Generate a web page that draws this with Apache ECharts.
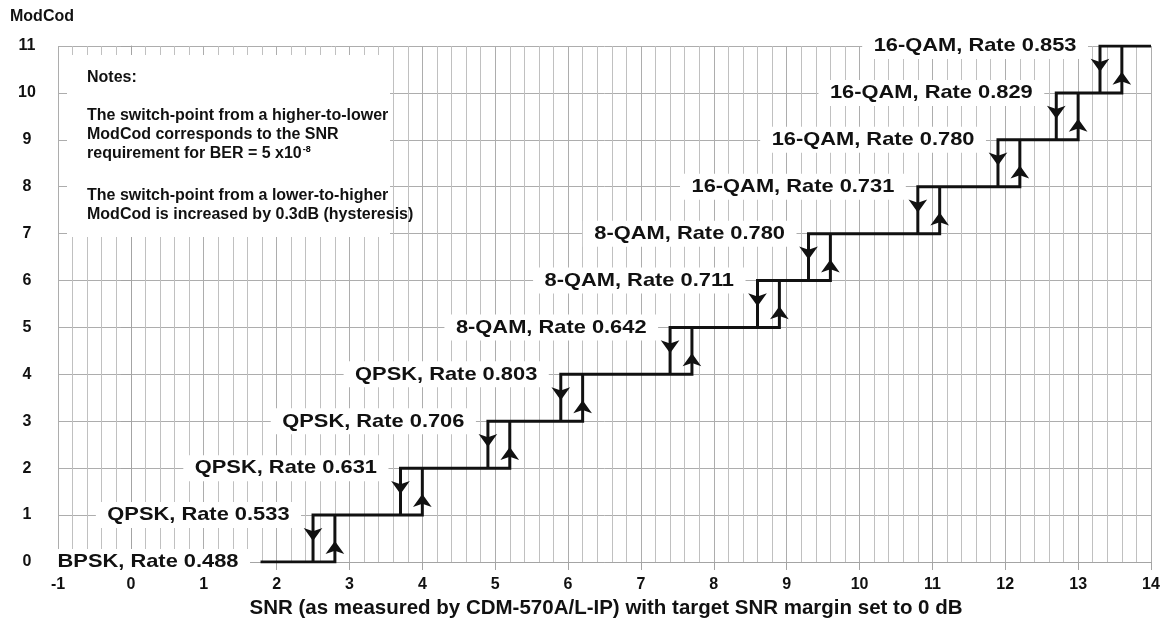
<!DOCTYPE html>
<html>
<head>
<meta charset="utf-8">
<script src="https://cdn.jsdelivr.net/npm/echarts@6/dist/echarts.min.js"></script>
<style>
html,body{margin:0;padding:0;background:#fff;}
#chart{width:1172px;height:627px;}
</style>
</head>
<body>
<div id="chart"></div>
<script>
// ---- data ----
const modcodLevels = [0, 1, 2, 3, 4, 5, 6, 7, 8, 9, 10, 11];
const modcodNames = [
  'BPSK, Rate 0.488', 'QPSK, Rate 0.533', 'QPSK, Rate 0.631', 'QPSK, Rate 0.706',
  'QPSK, Rate 0.803', '8-QAM, Rate 0.642', '8-QAM, Rate 0.711', '8-QAM, Rate 0.780',
  '16-QAM, Rate 0.731', '16-QAM, Rate 0.780', '16-QAM, Rate 0.829', '16-QAM, Rate 0.853'
];
// switch-point from ModCod k+1 down to k (higher-to-lower)
const downSwitchSNR = [2.5, 3.7, 4.9, 5.9, 7.4, 8.6, 9.3, 10.8, 11.9, 12.7, 13.3];
// switch-point from ModCod k up to k+1 (lower-to-higher, +0.3 dB hysteresis)
const upSwitchSNR = [2.8, 4.0, 5.2, 6.2, 7.7, 8.9, 9.6, 11.1, 12.2, 13.0, 13.6];
const snrStart = 1.8;
const snrEnd = 14;
const xAxisRange = [-1, 14];
const yAxisRange = [0, 11];
const notesTitle = 'Notes:';
const notesLines1 = ['The switch-point from a higher-to-lower', 'ModCod corresponds to the SNR'];
const notesBER = ['requirement for BER = 5 x10', '-8'];
const notesLines2 = ['The switch-point from a lower-to-higher', 'ModCod is increased by 0.3dB (hysteresis)'];
const yAxisTitle = 'ModCod';
const xAxisTitle = 'SNR (as measured by CDM-570A/L-IP) with target SNR margin set to 0 dB';

// ---- derived series data ----
const stepPath = [[snrStart, modcodLevels[0]]];
upSwitchSNR.forEach((s, k) => { stepPath.push([s, modcodLevels[k]], [s, modcodLevels[k + 1]]); });
stepPath.push([snrEnd, modcodLevels[modcodLevels.length - 1]]);
for (let k = downSwitchSNR.length - 1; k >= 0; k--) {
  stepPath.push([downSwitchSNR[k], modcodLevels[k + 1]], [downSwitchSNR[k], modcodLevels[k]]);
}
const downArrows = downSwitchSNR.map((s, k) => [s, modcodLevels[k] + 0.45]);
const upArrows = upSwitchSNR.map((s, k) => [s, modcodLevels[k] + 0.45]);
const labelData = modcodLevels.map((lv, k) => [k === 0 ? snrStart : downSwitchSNR[k - 1], lv, k]);

const FONT = '"Liberation Sans", Arial, Helvetica, sans-serif';
const GRID = {left: 58, right: 21, top: 46, bottom: 65};

const chart = echarts.init(document.getElementById('chart'), null, {renderer: 'canvas'});

const notesX = 87;
const option = {
  backgroundColor: '#fff',
  animation: false,
  grid: GRID,
  xAxis: {
    type: 'value', min: xAxisRange[0], max: xAxisRange[1], interval: 1,
    axisLine: {show: true, onZero: false, lineStyle: {color: '#a4a4a4', width: 1}},
    axisTick: {show: true, length: 8, lineStyle: {color: '#a4a4a4'}},
    axisLabel: {margin: 15, color: '#111', fontFamily: FONT, fontWeight: 'bold', fontSize: 16},
    splitLine: {show: true, lineStyle: {color: '#adadad', width: 1}},
    minorTick: {show: false, splitNumber: 5},
    minorSplitLine: {show: true, lineStyle: {color: '#c0c0c0', width: 1}}
  },
  yAxis: {
    type: 'value', min: yAxisRange[0], max: yAxisRange[1], interval: 1,
    axisLine: {show: true, lineStyle: {color: '#a4a4a4'}},
    axisTick: {show: true, length: 10, lineStyle: {color: '#a4a4a4'}},
    axisLabel: {margin: 31, align: 'center', color: '#111', fontFamily: FONT, fontWeight: 'bold', fontSize: 16},
    splitLine: {show: true, lineStyle: {color: '#adadad', width: 1}}
  },
  graphic: [
    {type: 'rect', z: 10, shape: {x: 67, y: 55, width: 323, height: 182}, style: {fill: '#fff'}},
    {type: 'text', z: 11, x: 10, y: 17, style: {text: yAxisTitle, font: 'bold 16px ' + FONT, fill: '#111', verticalAlign: 'middle'}},
    {type: 'text', z: 11, x: notesX, y: 78, style: {text: notesTitle, font: 'bold 16px ' + FONT, fill: '#111', verticalAlign: 'middle'}},
    {type: 'text', z: 11, x: notesX, y: 116, style: {text: notesLines1[0], font: 'bold 16px ' + FONT, fill: '#111', verticalAlign: 'middle'}},
    {type: 'text', z: 11, x: notesX, y: 135, style: {text: notesLines1[1], font: 'bold 16px ' + FONT, fill: '#111', verticalAlign: 'middle'}},
    {type: 'text', z: 11, x: notesX, y: 154, style: {
      text: '{a|' + notesBER[0] + '}{s|' + notesBER[1] + '}', verticalAlign: 'middle',
      rich: {
        a: {font: 'bold 16px ' + FONT, fill: '#111', color: '#111'},
        s: {font: 'bold 9px ' + FONT, color: '#111', verticalAlign: 'top', padding: [0, 0, 8, 1]}
      }
    }},
    {type: 'text', z: 11, x: notesX, y: 196, style: {text: notesLines2[0], font: 'bold 16px ' + FONT, fill: '#111', verticalAlign: 'middle'}},
    {type: 'text', z: 11, x: notesX, y: 215, style: {text: notesLines2[1], font: 'bold 16px ' + FONT, fill: '#111', verticalAlign: 'middle'}},
    {type: 'text', z: 11, x: 606, y: 608, style: {text: xAxisTitle, font: 'bold 20.5px ' + FONT, fill: '#111', align: 'center', verticalAlign: 'middle'}}
  ],
  series: [
    {
      type: 'custom',
      name: 'labels',
      data: labelData,
      clip: false,
      z: 3,
      renderItem: function (params, api) {
        const p = api.coord([api.value(0), api.value(1)]);
        const idx = api.value(2);
        return {
          type: 'text',
          x: p[0] - 12,
          y: p[1],
          scaleX: 1.15,
          style: {
            text: modcodNames[idx],
            font: 'bold 19px ' + FONT,
            fill: '#111',
            align: 'right',
            verticalAlign: 'middle',
            backgroundColor: '#fff',
            padding: [5, 10, 2, 10]
          }
        };
      }
    },
    {
      type: 'line',
      name: 'ModCod',
      data: stepPath,
      z: 5,
      symbol: 'none',
      lineStyle: {color: '#111', width: 3, join: 'miter', cap: 'square'}
    },
    {
      type: 'scatter',
      name: 'down',
      data: downArrows,
      z: 6,
      symbol: 'arrow',
      symbolSize: [14, 13],
      symbolRotate: 180,
      itemStyle: {color: '#111', opacity: 1}
    },
    {
      type: 'scatter',
      name: 'up',
      data: upArrows,
      z: 6,
      symbol: 'arrow',
      symbolSize: [14, 13],
      itemStyle: {color: '#111', opacity: 1}
    }
  ]
};
chart.setOption(option);
</script>
</body>
</html>
